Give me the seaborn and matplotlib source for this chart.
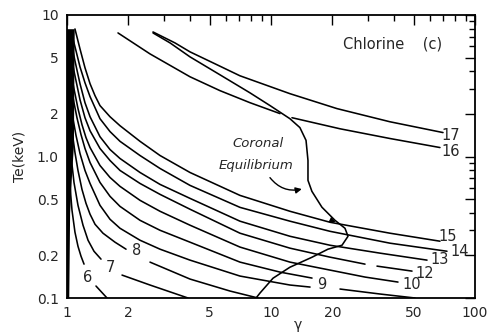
import matplotlib
matplotlib.use("Agg")
import matplotlib.pyplot as plt
from matplotlib.ticker import FixedLocator, NullFormatter
import seaborn as sns

# ---- data (gamma, Te in keV) ----
g15 = [1.094, 1.158, 1.225, 1.297, 1.372, 1.451, 1.625, 1.819, 2.280, 2.858, 4.008, 7.047, 12.39, 19.46, 38.31, 67.34]
t15 = [7.97, 5.76, 4.24, 3.27, 2.69, 2.29, 1.91, 1.65, 1.28, 1.016, 0.771, 0.531, 0.410, 0.343, 0.287, 0.252]

g14 = [1.070, 1.107, 1.158, 1.225, 1.297, 1.451, 1.625, 1.819, 2.280, 2.858, 4.008, 7.047, 12.39, 19.46, 38.31, 72.89]
t14 = [6.78, 5.58, 4.30, 3.32, 2.65, 1.85, 1.50, 1.28, 1.016, 0.823, 0.625, 0.437, 0.349, 0.296, 0.244, 0.214]

g13 = [1.058, 1.094, 1.158, 1.225, 1.297, 1.451, 1.625, 1.819, 2.280, 2.858, 4.008, 7.047, 12.39, 19.46, 34.22, 58.19]
t13 = [6.05, 4.74, 3.27, 2.40, 1.91, 1.38, 1.12, 0.968, 0.771, 0.635, 0.506, 0.349, 0.273, 0.236, 0.2075, 0.1852]

g12a = [1.058, 1.094, 1.158, 1.225, 1.297, 1.451, 1.625, 1.819, 2.280, 2.858, 4.008, 7.047, 12.39, 19.46, 28.90]
t12a = [4.74, 3.72, 2.52, 1.88, 1.52, 1.14, 0.937, 0.797, 0.645, 0.540, 0.424, 0.287, 0.225, 0.1944, 0.1735]
g12b = [33.08, 49.12]
t12b = [0.1680, 0.1549]

g10 = [1.046, 1.082, 1.132, 1.184, 1.239, 1.297, 1.451, 1.625, 1.819, 2.280, 2.858, 4.008, 7.047, 12.39, 19.46, 28.90, 41.93]
t10 = [3.90, 3.01, 2.18, 1.68, 1.36, 1.157, 0.864, 0.711, 0.615, 0.490, 0.410, 0.327, 0.229, 0.1793, 0.1575, 0.1406, 0.1296]

g9 = [1.046, 1.082, 1.119, 1.171, 1.225, 1.297, 1.451, 1.625, 1.819, 2.280, 2.858, 4.008, 7.047, 11.07, 15.89]
t9 = [3.16, 2.40, 1.88, 1.43, 1.14, 0.907, 0.656, 0.523, 0.444, 0.354, 0.301, 0.248, 0.1793, 0.1524, 0.1383]

gXa = [1.034, 1.070, 1.107, 1.158, 1.225, 1.297, 1.451, 1.625, 1.819, 2.280, 2.858, 4.008, 7.047, 12.39, 15.54]
tXa = [2.56, 1.85, 1.41, 1.050, 0.797, 0.645, 0.452, 0.360, 0.311, 0.256, 0.2213, 0.1852, 0.1429, 0.1235, 0.1195]
gXb = [21.79, 34.22, 50.81]
tXb = [0.1157, 0.1067, 0.100]

g8a = [1.034, 1.058, 1.094, 1.132, 1.184, 1.239, 1.297, 1.372, 1.501, 1.719, 1.947]
t8a = [2.04, 1.52, 1.067, 0.797, 0.586, 0.467, 0.391, 0.332, 0.287, 0.248, 0.2213]
g8b = [2.552, 4.008, 6.295, 8.636]
t8b = [0.1793, 0.1361, 0.1120, 0.100]

g7a = [1.023, 1.046, 1.082, 1.132, 1.198, 1.268, 1.356, 1.468]
t7a = [1.57, 1.016, 0.656, 0.452, 0.327, 0.256, 0.214, 0.1882]
g7b = [1.861, 2.552, 3.918]
t7b = [0.1452, 0.1235, 0.100]

g6a = [1.011, 1.034, 1.058, 1.094, 1.132, 1.171, 1.212]
t6a = [1.10, 0.625, 0.417, 0.292, 0.232, 0.1976, 0.1735]
g6b = [1.387, 1.571]
t6b = [0.1215, 0.100]

g16a = [1.778, 2.552, 4.008, 5.623, 7.889, 11.07]
t16a = [7.47, 5.31, 3.66, 2.92, 2.40, 2.01]
g16b = [12.67, 21.79, 38.31, 67.34]
t16b = [1.88, 1.57, 1.34, 1.157]

g17 = [2.64, 3.383, 4.008, 5.314, 7.041, 12.38, 21.06, 38.27, 69.7]
t17 = [7.59, 6.35, 5.49, 4.52, 3.72, 2.78, 2.18, 1.76, 1.476]

g_cor = [2.64, 3.20, 4.008, 5.62, 7.88, 9.89, 12.38, 13.86, 14.85, 15.18, 15.18, 15.87, 17.77,
         20.59, 23.05, 23.85, 22.29, 19.02, 15.87, 12.38, 10.23, 8.83, 8.45]
t_cor = [7.47, 6.35, 5.06, 3.78, 2.82, 2.29, 1.85, 1.60, 1.30, 0.937, 0.678, 0.567, 0.438,
         0.354, 0.311, 0.273, 0.236, 0.2213, 0.194, 0.165, 0.138, 0.1084, 0.100]

# dense cluster of curves at gamma ~ 1
band_t = [8.0, 1.2, 0.7, 0.4, 0.1]
band_g = [1.085, 1.075, 1.05, 1.03, 1.02]

curve_labels = ["6", "7", "8", "9", "10", "12", "13", "14", "15", "16", "17"]
label_g = [1.268, 1.624, 2.20, 17.8, 48.7, 56.9, 67.2, 84.4, 73.8, 76.3, 76.3]
label_t = [0.1405, 0.163, 0.218, 0.1255, 0.1255, 0.150, 0.188, 0.214, 0.273, 1.085, 1.406]

xticks = [1, 2, 5, 10, 20, 50, 100]
xticklabels = ["1", "2", "5", "10", "20", "50", "100"]
xminor = [3, 4, 6, 7, 8, 9, 30, 40, 60, 70, 80, 90]
yticks = [0.1, 0.2, 0.5, 1.0, 2, 5, 10]
yticklabels = ["0.1", "0.2", "0.5", "1.0", "2", "5", "10"]
yminor = [0.3, 0.4, 0.6, 0.7, 0.8, 0.9, 3, 4, 6, 7, 8, 9]

# ---- plot ----
sns.set_style("white")
plt.rcParams["font.family"] = ["DejaVu Sans"]
fig = plt.figure(figsize=(4.9, 3.33), dpi=100)
ax = fig.add_axes([67 / 490, 35 / 333, 408 / 490, 283 / 333])
ax.set_xscale("log")
ax.set_yscale("log")

LW = 1.15
def draw(g, t, lw=LW):
    sns.lineplot(x=g, y=t, sort=False, estimator=None, color="black", lw=lw, ax=ax)

for g, t in [(g15, t15), (g14, t14), (g13, t13), (g12a, t12a), (g12b, t12b),
             (g10, t10), (g9, t9), (gXa, tXa), (gXb, tXb), (g8a, t8a), (g8b, t8b),
             (g7a, t7a), (g7b, t7b), (g6a, t6a), (g6b, t6b), (g16a, t16a), (g16b, t16b),
             (g17, t17), (g_cor, t_cor)]:
    draw(g, t)

ax.fill_betweenx(band_t, [0.99] * len(band_g), band_g, color="black", lw=0)

for s, gx, ty in zip(curve_labels, label_g, label_t):
    ax.text(gx, ty, s, fontsize=10.5, ha="center", va="center")

ax.text(8.64, 1.235, "Coronal", fontsize=9.5, style="italic", ha="center", va="center")
ax.text(8.45, 0.865, "Equilibrium", fontsize=9.5, style="italic", ha="center", va="center")
ax.annotate("", xy=(14.6, 0.595), xytext=(9.7, 0.735),
            arrowprops=dict(arrowstyle="-|>", color="black", lw=1.0,
                            connectionstyle="arc3,rad=0.35", mutation_scale=9))
ax.annotate("", xy=(21.3, 0.337), xytext=(19.4, 0.36),
            arrowprops=dict(arrowstyle="-|>", color="black", lw=0.8, mutation_scale=8))
ax.text(39.6, 6.25, "Chlorine    (c)", fontsize=10.5, ha="center", va="center")

ax.set_xlim(1, 100)
ax.set_ylim(0.1, 10)
ax.xaxis.set_major_locator(FixedLocator(xticks))
ax.xaxis.set_minor_locator(FixedLocator(xminor))
ax.xaxis.set_minor_formatter(NullFormatter())
ax.set_xticklabels(xticklabels)
ax.yaxis.set_major_locator(FixedLocator(yticks))
ax.yaxis.set_minor_locator(FixedLocator(yminor))
ax.yaxis.set_minor_formatter(NullFormatter())
ax.set_yticklabels(yticklabels)
ax.tick_params(which="both", direction="in", top=True, right=True, labelsize=10,
               color="black", width=1.0, pad=6)
ax.tick_params(which="major", length=7)
ax.tick_params(which="minor", length=4)
for sp in ax.spines.values():
    sp.set_color("black")
    sp.set_linewidth(1.3)

ax.set_xlabel("γ", fontsize=10)
ax.xaxis.set_label_coords(0.566, -0.072)
ax.set_ylabel("Te(keV)", fontsize=10)
ax.yaxis.set_label_coords(-0.1, 0.5)

fig.savefig("out.png", dpi=100)
